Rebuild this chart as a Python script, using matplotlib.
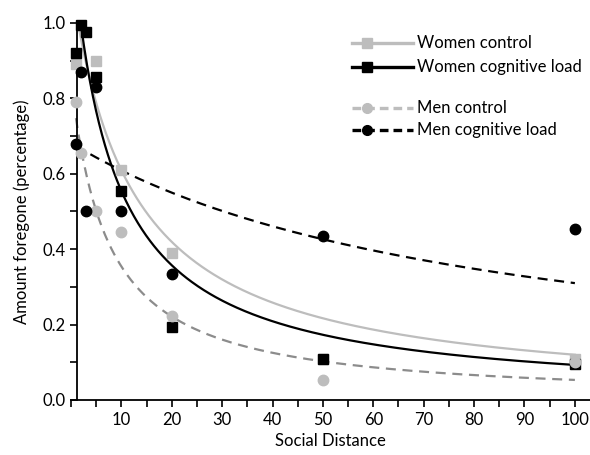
import numpy as np
import matplotlib.pyplot as plt
from matplotlib.lines import Line2D
from matplotlib.ticker import MultipleLocator, FormatStrFormatter

plt.rcParams['font.family'] = ['Lato', 'DejaVu Sans']

# observed points (social distance, amount foregone)
wc_x = [1, 5, 10, 20, 50, 100]
wc_y = [0.89, 0.90, 0.61, 0.39, 0.11, 0.11]

wl_x = [1, 2, 3, 5, 10, 20, 50, 100]
wl_y = [0.92, 0.995, 0.975, 0.857, 0.555, 0.194, 0.11, 0.095]

mc_x = [1, 2, 5, 10, 20, 50, 100]
mc_y = [0.79, 0.655, 0.50, 0.445, 0.222, 0.053, 0.10]

ml_x = [1, 2, 3, 5, 10, 20, 50, 100]
ml_y = [0.68, 0.87, 0.50, 0.83, 0.50, 0.334, 0.435, 0.453]

# hyperbolic fits y = A / (1 + k x) ** s
wc_fit = (1.116, 0.083, 1.0)
wl_fit = (1.239, 0.1233, 1.0)
mc_fit = (0.85, 0.13, 1.05)
ml_fit = (0.682, 0.012, 1.0)

labels = ["Women control", "Women cognitive load", "Men control", "Men cognitive load"]

light = '#bdbdbd'
dark = 'black'


def hyperbola(x, p):
    a, k, s = p
    return a / (1 + k * x) ** s


fig = plt.figure(figsize=(5.9, 4.55), dpi=100)
ax = fig.add_axes([0.1202, 0.1209, 0.8798, 0.8286])

xs = np.linspace(1, 100, 500)
ax.plot(xs, hyperbola(xs, wc_fit), color=light, lw=1.6, zorder=2)
ax.plot(xs, hyperbola(xs, wl_fit), color=dark, lw=1.6, zorder=2)
ax.plot(xs, hyperbola(xs, mc_fit), color='#8c8c8c', lw=1.6, dashes=(4.5, 3), zorder=2)
ax.plot(xs, hyperbola(xs, ml_fit), color=dark, lw=1.6, dashes=(4.5, 3), zorder=2)

ax.plot(wc_x, wc_y, 's', color=light, ms=7, ls='none', zorder=3, clip_on=False)
ax.plot(wl_x, wl_y, 's', color=dark, ms=7, ls='none', zorder=3, clip_on=False)
ax.plot(mc_x, mc_y, 'o', color=light, ms=7.5, ls='none', zorder=3, clip_on=False)
ax.plot(ml_x, ml_y, 'o', color=dark, ms=7.5, ls='none', zorder=3, clip_on=False)

ax.set_xlim(0, 103)
ax.set_ylim(0, 1.0)
ax.spines['top'].set_visible(False)
ax.spines['right'].set_visible(False)
ax.spines['left'].set_position(('data', 1.15))
ax.spines['left'].set_linewidth(1.3)
ax.spines['bottom'].set_linewidth(1.3)

ax.xaxis.set_minor_locator(MultipleLocator(5))
ax.yaxis.set_major_locator(MultipleLocator(0.2))
ax.yaxis.set_minor_locator(MultipleLocator(0.1))
ax.yaxis.set_major_formatter(FormatStrFormatter('%.1f'))
ax.set_xticks([10, 20, 30, 40, 50, 60, 70, 80, 90, 100])
ax.tick_params(which='both', direction='out', length=5, width=1.2, labelsize=12)
ax.tick_params(axis='y', pad=3)

ax.set_xlabel("Social Distance", fontsize=12, labelpad=4)
ax.set_ylabel("Amount foregone (percentage)", fontsize=12, labelpad=9)

# legend drawn by hand: marker sits on the left part of the line
rows = [(43, light, 's', '-'), (67, dark, 's', '-'),
        (108, light, 'o', '--'), (130, dark, 'o', '--')]
for (ypix, col, mk, ls), lab in zip(rows, labels):
    yf = 1 - ypix / 455
    x0, x1, xm = 352 / 590, 413 / 590, 367 / 590
    if ls == '-':
        line = Line2D([x0, x1], [yf, yf], transform=fig.transFigure, color=col, lw=2.4)
    else:
        line = Line2D([x0, x1], [yf, yf], transform=fig.transFigure, color=col, lw=2.4,
                      dashes=(2.6, 1.5))
    fig.add_artist(line)
    fig.add_artist(Line2D([xm], [yf], transform=fig.transFigure, color=col,
                          marker=mk, ms=7, ls='none'))
    fig.text(417 / 590, yf, lab, fontsize=12, va='center', ha='left')

fig.savefig("out.png", dpi=100)
